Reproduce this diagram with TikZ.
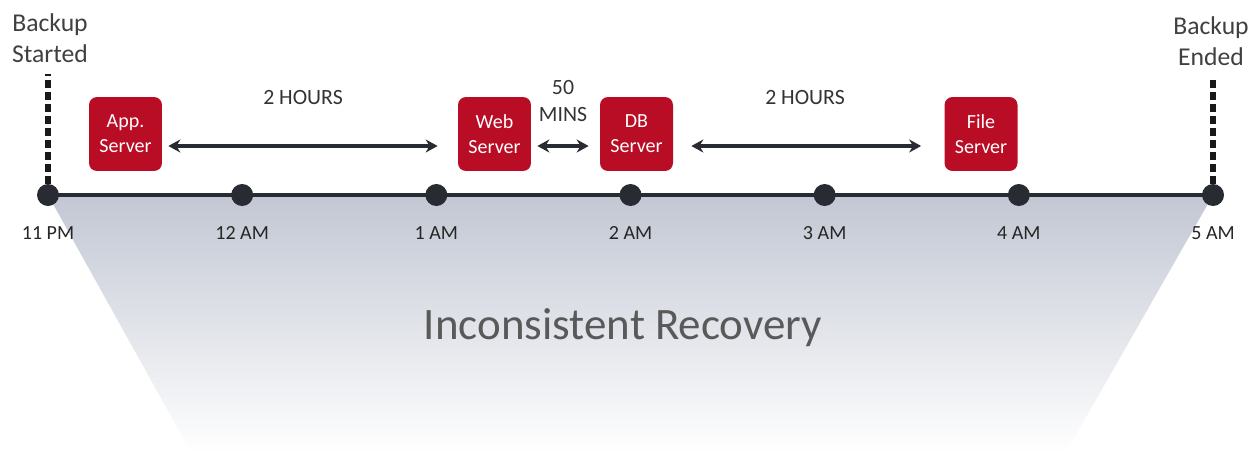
\documentclass[tikz,border=0pt]{standalone}
\usepackage{fontspec}
\setmainfont{Carlito}
\usetikzlibrary{positioning,arrows.meta,backgrounds}

\definecolor{serverred}{RGB}{185,12,37}
\definecolor{axisgray}{RGB}{40,44,50}
\definecolor{fadegray}{RGB}{194,199,211}
\definecolor{textgray}{RGB}{64,64,64}

\begin{document}
\begin{tikzpicture}
        [ x = 0.02cm
        , y = -0.02cm
        , tick/.style =
          { fill=axisgray, circle, inner sep=0pt, minimum size=0.44cm }
        , hour/.style =
          { text=black!85, font=\fontsize{11.4}{13}\selectfont }
        , server/.style =
          { fill=serverred, rounded corners=0.16cm, minimum width=1.46cm
          , minimum height=1.48cm, text=white, align=center
          , font=\fontsize{11.4}{14.2}\selectfont }
        , span/.style =
          { {Stealth[length=0.24cm,width=0.26cm]}-{Stealth[length=0.24cm,width=0.26cm]}
          , line width=2.2pt, draw=axisgray }
        , gap/.style =
          { align=center, text=black!80, font=\fontsize{12.4}{15.3}\selectfont }
        , limit/.style =
          { draw=black!90, line width=3.1pt, dash pattern=on 4.6pt off 2.2pt }
        , event/.style =
          { align=center, text=textgray, font=\fontsize{14.6}{17.6}\selectfont }
        ]
        \useasboundingbox (0,0) rectangle (1251,454);

        % hours along the axis
        \foreach \t [count=\i from 0] in {11 PM,12 AM,1 AM,2 AM,3 AM,4 AM,5 AM} {
          \node [tick] (t\i) at (48+194.17*\i,195) {};
          \node [hour] (h\i) [below=0.28cm of t\i] {\t};
        }

        \coordinate (fadeL) at (192,454);
        \coordinate (fadeR) at (1065,454);
        \begin{pgfonlayer}{background}
          \shade [top color=fadegray, bottom color=white]
            (t0.center) -- (t6.center) -- (fadeR) -- (fadeL) -- cycle;
          \draw [line width=2.2pt, axisgray] (t0.center) -- (t6.center);
        \end{pgfonlayer}

        \node [event] (started) at (50,38) {Backup\\Started};
        \node [event] (ended) at (1211,41) {Backup\\Ended};
        \draw [limit, shorten >=0.1cm] (t0.north) -- (t0 |- started.south);
        \draw [limit, shorten >=0.1cm] (t6.north) -- (t6 |- ended.south);

        \node [server] (app) at (125.5,134) {App.\\Server};
        \node [server] (web) at (494.5,134) {Web\\Server};
        \node [server] (db) at (636.5,134) {DB\\Server};
        \node [server] (file) at (981,134) {File\\Server};

        \draw [span, shorten <=0.12cm, shorten >=0.4cm]
          ([yshift=-0.24cm]app.east) -- ([yshift=-0.24cm]web.west);
        \draw [span, shorten <=0.12cm, shorten >=0.22cm]
          ([yshift=-0.24cm]web.east) -- ([yshift=-0.24cm]db.west);
        \draw [span, shorten <=0.36cm, shorten >=0.46cm]
          ([yshift=-0.24cm]db.east) -- ([yshift=-0.24cm]file.west);

        \node [gap] (first) at (303,98) {2 HOURS};
        \node [gap] (middle) at (563,101) {50\\MINS};
        \node [gap] (last) at (805,98) {2 HOURS};

        \node [text=black!65, font=\fontsize{25.6}{30}\selectfont] (recovery)
          at (623,328) {Inconsistent Recovery};
\end{tikzpicture}
\end{document}
